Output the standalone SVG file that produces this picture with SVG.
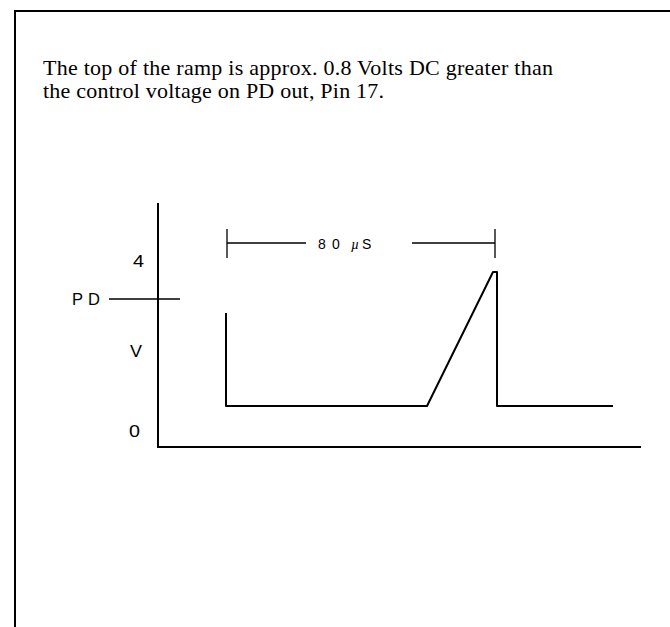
<svg xmlns="http://www.w3.org/2000/svg" width="670" height="627" viewBox="0 0 670 627">
<style>
.ln{stroke:#000;stroke-width:2;fill:none}
.thin{stroke:#000;stroke-width:1.3;fill:none}
.cap{font-family:"Liberation Serif",serif;font-size:22px;fill:#000}
.lbl{font-family:"Liberation Sans",sans-serif;font-size:16.5px;fill:#000}
.sm{font-family:"Liberation Sans",sans-serif;font-size:14px;fill:#000}
</style>
<rect width="670" height="627" fill="#fff"/>
<g id="frame"><path class="ln" d="M15,627 V11 H670" stroke-width="3"/></g>
<g id="caption">
<text class="cap" x="43" y="75" textLength="510">The top of the ramp is approx. 0.8 Volts DC greater than</text>
<text class="cap" x="43" y="98" textLength="341">the control voltage on PD out, Pin 17.</text>
</g>
<g id="axes">
<path class="ln" d="M158,203 V447 H641"/>
<path class="thin" d="M109,299 H180"/>
<text class="lbl" x="72 88" y="305">PD</text>
<text class="lbl" x="133" y="267" textLength="11" lengthAdjust="spacingAndGlyphs">4</text>
<text class="lbl" x="130" y="357" textLength="12" lengthAdjust="spacingAndGlyphs">V</text>
<text class="lbl" x="129" y="437" textLength="11" lengthAdjust="spacingAndGlyphs">0</text>
</g>
<g id="waveform">
<path class="ln" stroke-linejoin="round" d="M226,313 V406 H427 L493,272 H497 V406 H613"/>
</g>
<g id="dimension">
<path class="thin" d="M227,229 V258 M227,243 H306 M412,243 H495 M495,229 V258"/>
<text class="sm" y="249"><tspan x="318">8</tspan><tspan x="332">0</tspan><tspan x="351" font-family="'Liberation Serif',serif" font-style="italic">µ</tspan><tspan x="362">S</tspan></text>
</g>
</svg>
